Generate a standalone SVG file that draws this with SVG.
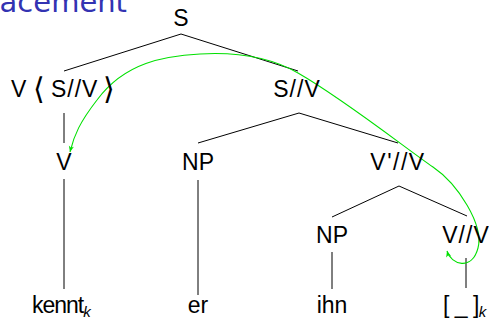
<svg xmlns="http://www.w3.org/2000/svg" width="489" height="320" viewBox="0 0 489 320">
  <style>
    .lbl { font-family: "Liberation Sans", Arial, sans-serif; font-size: 23px; fill: #000; }
    .mid { text-anchor: middle; }
    .sl { letter-spacing: 1px; }
    .ang { font-family: "DejaVu Sans", sans-serif; font-size: 30px; font-weight: 200; }
    .sub { font-family: "Liberation Sans", Arial, sans-serif; font-size: 15px; font-style: italic; fill: #000; letter-spacing: 0; }
    .title { font-family: "DejaVu Sans", sans-serif; font-size: 29px; fill: #3333b2; }
    .edge { stroke: #000; stroke-width: 1; fill: none; }
    .move { stroke: #00e000; stroke-width: 1.1; fill: none; }
  </style>
  <defs>
    <marker id="tip" viewBox="-7 -4 8 8" refX="0" refY="0" markerWidth="8" markerHeight="8" markerUnits="userSpaceOnUse" orient="auto-start-reverse">
      <path d="M0,0 L-6,-2.6 L-4.4,0 L-6,2.6 Z" fill="#00e000"/>
    </marker>
  </defs>

  <!-- slide title, cut at the frame edge -->
  <text class="title" x="127" y="11.5" text-anchor="end">acement</text>

  <!-- tree edges -->
  <g id="connectors">
    <line class="edge" x1="181" y1="34" x2="64" y2="71"/>
    <line class="edge" x1="181" y1="34" x2="298" y2="71"/>
    <line class="edge" x1="64" y1="113" x2="64" y2="143"/>
    <line class="edge" x1="64" y1="179" x2="64" y2="289"/>
    <line class="edge" x1="299" y1="113" x2="198" y2="143"/>
    <line class="edge" x1="299" y1="113" x2="398" y2="143"/>
    <line class="edge" x1="198" y1="180" x2="198" y2="295"/>
    <line class="edge" x1="399" y1="186" x2="332" y2="217"/>
    <line class="edge" x1="399" y1="186" x2="467" y2="216"/>
    <line class="edge" x1="332" y1="252" x2="332" y2="289"/>
    <line class="edge" x1="466" y1="258" x2="466" y2="288"/>
    <!-- verb movement arrow -->
    <path class="move" marker-start="url(#tip)" marker-end="url(#tip)"
          d="M447,251 C451,265 472,271 478,248 C484,225 458,184 433,167 C408,150 345,100 298,73 C270,57 235,52 200,54 C165,56 125,62 97,100 C80,122 74,135 70,152"/>
  </g>

  <g id="n-S"><text class="lbl mid" x="181" y="26">S</text></g>
  <g id="n-V-S-V">
    <text class="lbl" y="97"><tspan x="11">V</tspan><tspan class="ang" x="33" y="99">⟨</tspan><tspan class="sl" x="51" y="97">S//V</tspan><tspan class="ang" x="103" y="99">⟩</tspan></text>
  </g>
  <g id="n-SV"><text class="lbl mid sl" x="297" y="97">S//V</text></g>
  <g id="n-V"><text class="lbl mid" x="64" y="170">V</text></g>
  <g id="n-NP1"><text class="lbl mid" x="198" y="170">NP</text></g>
  <g id="n-Vbar"><text class="lbl mid" x="398" y="170" letter-spacing="1.5">V'//V</text></g>
  <g id="n-NP2"><text class="lbl mid" x="332" y="243">NP</text></g>
  <g id="n-VV"><text class="lbl mid sl" x="466" y="243">V//V</text></g>

  <g id="w-kennt"><text class="lbl" x="32" y="313" letter-spacing="-1">kennt<tspan class="sub" dy="4">k</tspan></text></g>
  <g id="w-er"><text class="lbl mid" x="198" y="313">er</text></g>
  <g id="w-ihn"><text class="lbl mid" x="332" y="313">ihn</text></g>
  <g id="w-trace"><text class="lbl" x="443" y="313" letter-spacing="-0.5">[ _ ]<tspan class="sub" dy="4">k</tspan></text></g>
</svg>
